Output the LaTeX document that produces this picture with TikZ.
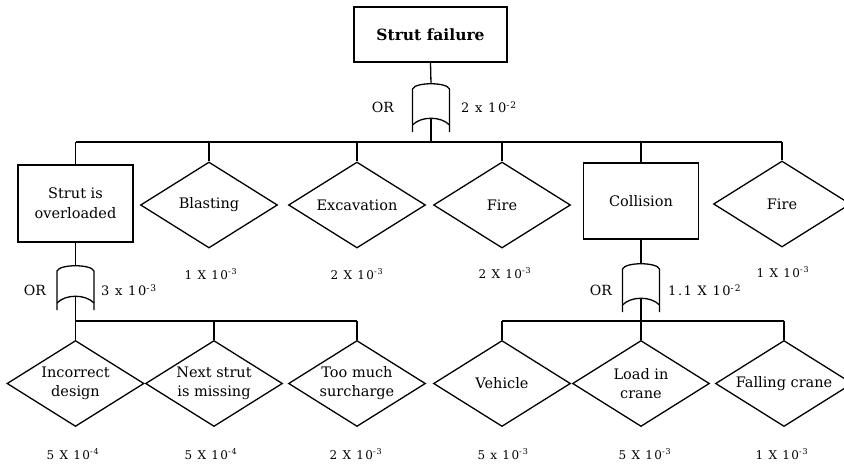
\documentclass[tikz,border=0pt]{standalone}
\usepackage{fontspec}
\setmainfont{DejaVu Serif}
\newfontfamily\probfont{DejaVu Serif}[LetterSpace=12]
\usetikzlibrary{shapes.geometric}

\tikzset{
  lnk/.style={line width=1.3pt},
  evbox/.style={draw, line width=1.3pt, rectangle, align=center, inner sep=0pt,
    font=\fontsize{14.5}{20}\selectfont},
  evdia/.style={draw, line width=1.3pt, diamond, aspect=1.6, minimum width=137pt,
    minimum height=86pt, inner sep=0pt, align=center, font=\fontsize{14.5}{19}\selectfont},
  gatelbl/.style={font=\fontsize{14}{16}\selectfont, inner sep=0pt},
  gateprob/.style={font=\probfont\fontsize{13}{15}\selectfont, inner sep=0pt, anchor=west},
  prob/.style={font=\probfont\fontsize{12}{14}\selectfont, inner sep=0pt},
}

% OR gate: name, x centre, y top, y bottom
\newcommand\orgatedraw[4]{%
  \draw[lnk] (#2-18.5,#4) -- (#2-18.5,#3+7) .. controls (#2-16,#3) and (#2+16,#3) .. (#2+18.5,#3+7) -- (#2+18.5,#4);
  \draw[lnk] (#2-18.5,#4-7) .. controls (#2-10,#4-16) and (#2+10,#4-16) .. (#2+18.5,#4-7);
  \coordinate (#1t) at (#2,#3+1.75);
  \coordinate (#1b) at (#2,#4-13.75);
}

\begin{document}
\begin{tikzpicture}[x=1pt,y=-1pt]
\useasboundingbox (0,0) rectangle (844,466);

% top event
\node[evbox, minimum width=153pt, minimum height=55pt, font=\bfseries\fontsize{15.5}{20}\selectfont] (top) at (430.5,34.5) {Strut failure};

\orgatedraw{g0}{431}{82}{132}
\node[gatelbl] (or0) at (383,107) {OR};
\node[gateprob] (p0) at (461,107) {2 x 10\textsuperscript{-2}};

% second level
\node[evbox, minimum width=115pt, minimum height=77pt] (over) at (75.5,203.5) {Strut is\\overloaded};
\node[evdia] (blast) at (209,205) {Blasting};
\node[evdia] (exc) at (357,205) {Excavation};
\node[evdia] (fire1) at (502,205) {Fire};
\node[evbox, minimum width=115pt, minimum height=76pt] (coll) at (641,201) {Collision};
\node[evdia] (fire2) at (782,204) {Fire};

\node[prob] (pb) at (211,274) {1 X 10\textsuperscript{-3}};
\node[prob] (pe) at (357,274) {2 X 10\textsuperscript{-3}};
\node[prob] (pf1) at (505,273) {2 X 10\textsuperscript{-3}};
\node[prob] (pf2) at (783,272) {1 X 10\textsuperscript{-3}};

\coordinate (bus0L) at (75.5,142);
\coordinate (bus0R) at (782,142);
\draw[lnk] (top.south) -- (g0t);
\draw[lnk] (g0b) -- (g0b |- bus0L);
\draw[lnk] (bus0L) -- (bus0R);
\foreach \n in {over,blast,exc,fire1,coll,fire2}
  \draw[lnk] (\n.north) -- (\n.north |- bus0L);

% left gate
\orgatedraw{g1}{75.5}{264}{310}
\node[gatelbl] (or1) at (35,290) {OR};
\node[gateprob] (p1) at (101,290) {3 x 10\textsuperscript{-3}};
\draw[lnk] (over.south) -- (g1t);

\node[evdia] (inc) at (75.5,383.5) {Incorrect\\design};
\node[evdia] (next) at (214,383.5) {Next strut\\is missing};
\node[evdia] (much) at (357,383.5) {Too much\\surcharge};

\coordinate (bus1L) at (75.5,321);
\coordinate (bus1R) at (357,321);
\draw[lnk] (g1b) -- (g1b |- bus1L);
\draw[lnk] (bus1L) -- (bus1R);
\foreach \n in {inc,next,much}
  \draw[lnk] (\n.north) -- (\n.north |- bus1L);

\node[prob] (pi) at (73,454) {5 X 10\textsuperscript{-4}};
\node[prob] (pn) at (211,454) {5 X 10\textsuperscript{-4}};
\node[prob] (pm) at (356,454) {2 X 10\textsuperscript{-3}};

% right gate
\orgatedraw{g2}{641}{262}{312}
\node[gatelbl] (or2) at (601,290) {OR};
\node[gateprob] (p2) at (668,290) {1.1 X 10\textsuperscript{-2}};
\draw[lnk] (coll.south) -- (g2t);

\node[evdia] (veh) at (502,383.5) {Vehicle};
\node[evdia] (load) at (641,383.5) {Load in\\crane};
\node[evdia] (fall) at (784,383.5) {Falling crane};

\coordinate (bus2L) at (502,321);
\coordinate (bus2R) at (784,321);
\draw[lnk] (g2b) -- (g2b |- bus2L);
\draw[lnk] (bus2L) -- (bus2R);
\foreach \n in {veh,load,fall}
  \draw[lnk] (\n.north) -- (\n.north |- bus2L);

\node[prob] (pv) at (503,454) {5 x 10\textsuperscript{-3}};
\node[prob] (pl) at (645,454) {5 X 10\textsuperscript{-3}};
\node[prob] (pc) at (782,454) {1 X 10\textsuperscript{-3}};
\end{tikzpicture}
\end{document}
